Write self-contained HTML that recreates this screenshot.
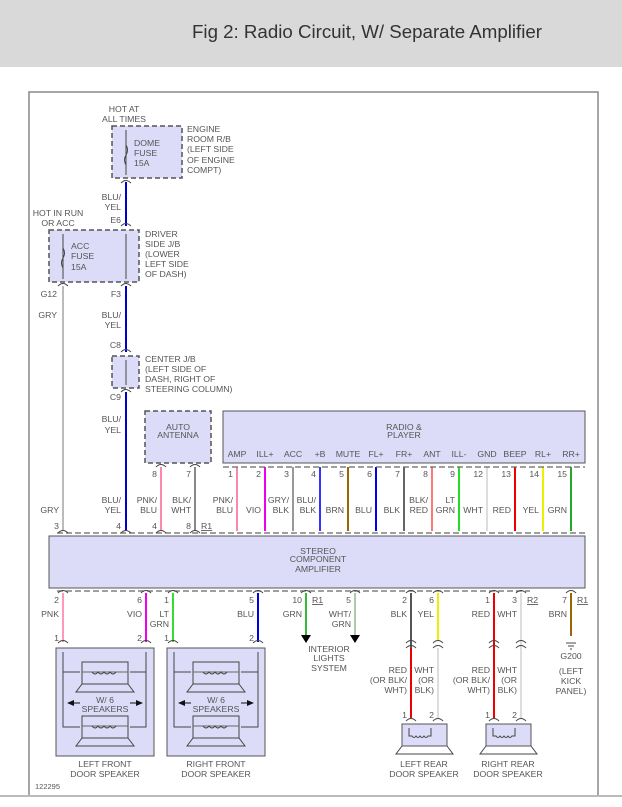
<!DOCTYPE html>
<html><head><meta charset="utf-8"><style>
body{margin:0;background:#fff;width:622px;height:807px;overflow:hidden}
svg{display:block}
text{font-family:"Liberation Sans",sans-serif;font-size:8.7px;fill:#555}
.c{text-anchor:middle}.r{text-anchor:end}
</style></head><body>
<svg width="622" height="807" viewBox="0 0 622 807">
<rect x="0" y="0" width="622" height="67" fill="#d9d9d9"/>
<text x="192" y="38" style="font-size:18.7px;fill:#333">Fig 2: Radio Circuit, W/ Separate Amplifier</text>
<path d="M29 795 V92 H598 V795" fill="none" stroke="#888" stroke-width="1.5"/>
<line x1="0" y1="796" x2="622" y2="796" stroke="#bbb" stroke-width="2"/>
<g fill="#dcdcf8" stroke="#555" stroke-width="1.5">
<rect x="112" y="126" width="70" height="52" stroke-dasharray="5,3"/>
<rect x="49" y="230" width="90" height="52" stroke-dasharray="5,3"/>
<rect x="112" y="356" width="27" height="32" stroke-dasharray="5,3"/>
<rect x="145" y="411" width="66" height="52" stroke-dasharray="5,3"/>
<rect x="223" y="411" width="362" height="52" stroke-width="1"/>
<rect x="49" y="536" width="536" height="52" stroke-width="1"/>
<rect x="56" y="648" width="98" height="108" stroke-width="1"/>
<rect x="167" y="648" width="98" height="108" stroke-width="1"/>
<rect x="402" y="724" width="45" height="22" stroke-width="1"/>
<rect x="486" y="724" width="45" height="22" stroke-width="1"/>
</g>
<g fill="none" stroke-width="2">
<line x1="126" y1="182" x2="126" y2="226" stroke="#00c"/>
<line x1="126" y1="286" x2="126" y2="352" stroke="#00c"/>
<line x1="126" y1="392" x2="126" y2="531" stroke="#00c"/>
<line x1="63" y1="286" x2="63" y2="531" stroke="#bbb"/>
<line x1="161" y1="467" x2="161" y2="531" stroke="#f8a"/>
<line x1="195" y1="467" x2="195" y2="531" stroke="#888"/>
<line x1="237" y1="467" x2="237" y2="531" stroke="#f8a"/>
<line x1="265" y1="467" x2="265" y2="531" stroke="#e0e"/>
<line x1="293" y1="467" x2="293" y2="531" stroke="#999"/>
<line x1="320" y1="467" x2="320" y2="531" stroke="#33f"/>
<line x1="348" y1="467" x2="348" y2="531" stroke="#960"/>
<line x1="376" y1="467" x2="376" y2="531" stroke="#00e"/>
<line x1="404" y1="467" x2="404" y2="531" stroke="#666"/>
<line x1="432" y1="467" x2="432" y2="531" stroke="#f77"/>
<line x1="459" y1="467" x2="459" y2="531" stroke="#2d2"/>
<line x1="487" y1="467" x2="487" y2="531" stroke="#ddd"/>
<line x1="515" y1="467" x2="515" y2="531" stroke="#e00"/>
<line x1="543" y1="467" x2="543" y2="531" stroke="#ee0"/>
<line x1="571" y1="467" x2="571" y2="531" stroke="#2a2"/>
<line x1="63" y1="593" x2="63" y2="642" stroke="#f9b"/>
<line x1="146" y1="593" x2="146" y2="642" stroke="#e0e"/>
<line x1="173" y1="593" x2="173" y2="642" stroke="#3d3"/>
<line x1="258" y1="593" x2="258" y2="642" stroke="#00d"/>
<line x1="306" y1="593" x2="306" y2="635" stroke="#3b3"/>
<line x1="355" y1="593" x2="355" y2="635" stroke="#aca"/>
<line x1="411" y1="593" x2="411" y2="718" stroke="#555"/>
<line x1="438" y1="593" x2="438" y2="640" stroke="#ee0"/>
<line x1="438" y1="648" x2="438" y2="718" stroke="#ddd"/>
<line x1="411" y1="648" x2="411" y2="718" stroke="#e00"/>
<line x1="494" y1="593" x2="494" y2="718" stroke="#e00"/>
<line x1="521" y1="593" x2="521" y2="718" stroke="#ddd"/>
<line x1="571" y1="593" x2="571" y2="636" stroke="#960"/>
</g>
<g stroke="#666" stroke-width="1.3" stroke-dasharray="6,3" fill="none">
<line x1="223" y1="467" x2="585" y2="467"/>
<line x1="57" y1="533" x2="585" y2="533"/>
<line x1="57" y1="591" x2="530" y2="591"/>
</g>
<g fill="#000"><path d="M301 635 h10 l-5 8z"/><path d="M350 635 h10 l-5 8z"/></g>
<g stroke="#444" stroke-width="1"><line x1="566" y1="643" x2="576" y2="643"/><line x1="568" y1="646" x2="574" y2="646"/><line x1="570" y1="649" x2="572" y2="649"/></g>
<g fill="none" stroke="#444" stroke-width="1">
<line x1="126" y1="130" x2="126" y2="175"/><path d="M126 165 q-3 -5 0 -10 q3 -5 0 -10"/>
<line x1="63" y1="234" x2="63" y2="279"/><path d="M63 268 q-3 -5 0 -10 q3 -5 0 -10"/>
<line x1="126" y1="234" x2="126" y2="279"/><line x1="126" y1="360" x2="126" y2="385"/>
<path d="M63 652 V727 H80 M63 672 H80 M146 652 V727 H130 M146 672 H130"/>
<path d="M174 652 V727 H191 M174 672 H191 M258 652 V727 H241 M258 672 H241"/>
<rect x="82" y="662" width="46" height="22"/><path d="M82 684 l-6 8 h58 l-6 -8"/>
<rect x="82" y="716" width="46" height="22"/><path d="M82 738 l-6 8 h58 l-6 -8"/>
<rect x="193" y="662" width="46" height="22"/><path d="M193 684 l-6 8 h58 l-6 -8"/>
<rect x="193" y="716" width="46" height="22"/><path d="M193 738 l-6 8 h58 l-6 -8"/>
<path d="M82 672 h46 M82 726 h46 M193 672 h46 M193 726 h46" stroke="#666"/>
<path d="M92 672 q3 4 6 0 q3 4 6 0 q3 4 6 0 q3 4 6 0 M92 726 q3 4 6 0 q3 4 6 0 q3 4 6 0 q3 4 6 0"/>
<path d="M203 672 q3 4 6 0 q3 4 6 0 q3 4 6 0 q3 4 6 0 M203 726 q3 4 6 0 q3 4 6 0 q3 4 6 0 q3 4 6 0"/>
<path d="M402 746 l-6 8 h57 l-6 -8 M486 746 l-6 8 h57 l-6 -8"/>
<path d="M409 728 v8 h3 q2 3 4 0 q2 3 4 0 q2 3 4 0 q2 3 4 0 h3 v-8 M493 728 v8 h3 q2 3 4 0 q2 3 4 0 q2 3 4 0 q2 3 4 0 h3 v-8"/>
<path d="M121 183 q5 -5 10 0 M121 226 q5 -5 10 0 M58 286 q5 -5 10 0 M121 286 q5 -5 10 0 M121 352 q5 -5 10 0 M121 392 q5 -5 10 0 M156 467 q5 -5 10 0 M190 467 q5 -5 10 0"/>
<path d="M58 533 q5 -5 10 0 M121 533 q5 -5 10 0 M156 533 q5 -5 10 0 M190 533 q5 -5 10 0 M58 593 q5 -5 10 0 M141 593 q5 -5 10 0 M168 593 q5 -5 10 0 M253 593 q5 -5 10 0 M301 593 q5 -5 10 0 M350 593 q5 -5 10 0 M406 593 q5 -5 10 0 M433 593 q5 -5 10 0 M489 593 q5 -5 10 0 M516 593 q5 -5 10 0 M566 593 q5 -5 10 0"/>
<path d="M58 643 q5 -5 10 0 M141 643 q5 -5 10 0 M168 643 q5 -5 10 0 M253 643 q5 -5 10 0 M406 643 q5 -5 10 0 M433 643 q5 -5 10 0 M489 643 q5 -5 10 0 M516 643 q5 -5 10 0 M406 648 q5 -5 10 0 M433 648 q5 -5 10 0 M489 648 q5 -5 10 0 M516 648 q5 -5 10 0 M406 721 q5 -5 10 0 M433 721 q5 -5 10 0 M489 721 q5 -5 10 0 M516 721 q5 -5 10 0"/>
</g>
<g>
<text x="124" y="112" class="c">HOT AT</text><text x="124" y="122" class="c">ALL TIMES</text>
<text x="134" y="146">DOME</text><text x="134" y="156">FUSE</text><text x="134" y="166">15A</text>
<text x="187" y="132">ENGINE</text><text x="187" y="142">ROOM R/B</text><text x="187" y="152">(LEFT SIDE</text><text x="187" y="163">OF ENGINE</text><text x="187" y="173">COMPT)</text>
<text x="121" y="200" class="r">BLU/</text><text x="121" y="210" class="r">YEL</text><text x="121" y="223" class="r">E6</text>
<text x="58" y="216" class="c">HOT IN RUN</text><text x="58" y="226" class="c">OR ACC</text>
<text x="71" y="249">ACC</text><text x="71" y="259">FUSE</text><text x="71" y="270">15A</text>
<text x="145" y="237">DRIVER</text><text x="145" y="247">SIDE J/B</text><text x="145" y="257">(LOWER</text><text x="145" y="267">LEFT SIDE</text><text x="145" y="277">OF DASH)</text>
<text x="57" y="297" class="r">G12</text><text x="121" y="297" class="r">F3</text>
<text x="57" y="318" class="r">GRY</text><text x="121" y="318" class="r">BLU/</text><text x="121" y="328" class="r">YEL</text>
<text x="121" y="348" class="r">C8</text><text x="121" y="400" class="r">C9</text>
<text x="145" y="362">CENTER J/B</text><text x="145" y="372">(LEFT SIDE OF</text><text x="145" y="382">DASH, RIGHT OF</text><text x="145" y="392">STEERING COLUMN)</text>
<text x="121" y="422" class="r">BLU/</text><text x="121" y="433" class="r">YEL</text>
<text x="178" y="430" class="c">AUTO</text><text x="178" y="438" class="c">ANTENNA</text>
<text x="404" y="430" class="c">RADIO &amp;</text><text x="404" y="438" class="c">PLAYER</text>
<text x="237" y="457" class="c">AMP</text><text x="265" y="457" class="c">ILL+</text><text x="293" y="457" class="c">ACC</text><text x="320" y="457" class="c">+B</text><text x="348" y="457" class="c">MUTE</text><text x="376" y="457" class="c">FL+</text><text x="404" y="457" class="c">FR+</text><text x="432" y="457" class="c">ANT</text><text x="459" y="457" class="c">ILL-</text><text x="487" y="457" class="c">GND</text><text x="515" y="457" class="c">BEEP</text><text x="543" y="457" class="c">RL+</text><text x="571" y="457" class="c">RR+</text>
<text x="157" y="477" class="r">8</text><text x="191" y="477" class="r">7</text><text x="233" y="477" class="r">1</text><text x="261" y="477" class="r">2</text><text x="289" y="477" class="r">3</text><text x="316" y="477" class="r">4</text><text x="344" y="477" class="r">5</text><text x="372" y="477" class="r">6</text><text x="400" y="477" class="r">7</text><text x="428" y="477" class="r">8</text><text x="455" y="477" class="r">9</text><text x="483" y="477" class="r">12</text><text x="511" y="477" class="r">13</text><text x="539" y="477" class="r">14</text><text x="567" y="477" class="r">15</text>
<text x="121" y="503" class="r">BLU/</text><text x="121" y="513" class="r">YEL</text>
<text x="157" y="503" class="r">PNK/</text><text x="157" y="513" class="r">BLU</text>
<text x="191" y="503" class="r">BLK/</text><text x="191" y="513" class="r">WHT</text>
<text x="233" y="503" class="r">PNK/</text><text x="233" y="513" class="r">BLU</text>
<text x="261" y="513" class="r">VIO</text>
<text x="289" y="503" class="r">GRY/</text><text x="289" y="513" class="r">BLK</text>
<text x="316" y="503" class="r">BLU/</text><text x="316" y="513" class="r">BLK</text>
<text x="344" y="513" class="r">BRN</text><text x="372" y="513" class="r">BLU</text><text x="400" y="513" class="r">BLK</text>
<text x="428" y="503" class="r">BLK/</text><text x="428" y="513" class="r">RED</text>
<text x="455" y="503" class="r">LT</text><text x="455" y="513" class="r">GRN</text>
<text x="483" y="513" class="r">WHT</text><text x="511" y="513" class="r">RED</text><text x="539" y="513" class="r">YEL</text><text x="567" y="513" class="r">GRN</text>
<text x="59" y="513" class="r">GRY</text>
<text x="59" y="529" class="r">3</text><text x="121" y="529" class="r">4</text><text x="157" y="529" class="r">4</text><text x="191" y="529" class="r">8</text>
<text x="201" y="529" style="text-decoration:underline">R1</text>
<text x="318" y="554" class="c">STEREO</text><text x="318" y="562" class="c">COMPONENT</text><text x="318" y="572" class="c">AMPLIFIER</text>
<text x="59" y="603" class="r">2</text><text x="142" y="603" class="r">6</text><text x="169" y="603" class="r">1</text><text x="254" y="603" class="r">5</text><text x="302" y="603" class="r">10</text><text x="351" y="603" class="r">5</text><text x="407" y="603" class="r">2</text><text x="434" y="603" class="r">6</text><text x="490" y="603" class="r">1</text><text x="517" y="603" class="r">3</text><text x="567" y="603" class="r">7</text>
<text x="312" y="603" style="text-decoration:underline">R1</text><text x="527" y="603" style="text-decoration:underline">R2</text><text x="577" y="603" style="text-decoration:underline">R1</text>
<text x="59" y="617" class="r">PNK</text><text x="142" y="617" class="r">VIO</text><text x="169" y="617" class="r">LT</text><text x="169" y="627" class="r">GRN</text><text x="254" y="617" class="r">BLU</text><text x="302" y="617" class="r">GRN</text>
<text x="351" y="617" class="r">WHT/</text><text x="351" y="627" class="r">GRN</text>
<text x="407" y="617" class="r">BLK</text><text x="434" y="617" class="r">YEL</text><text x="490" y="617" class="r">RED</text><text x="517" y="617" class="r">WHT</text><text x="567" y="617" class="r">BRN</text>
<text x="59" y="641" class="r">1</text><text x="142" y="641" class="r">2</text><text x="169" y="641" class="r">1</text><text x="254" y="641" class="r">2</text>
<text x="329" y="652" class="c">INTERIOR</text><text x="329" y="661" class="c">LIGHTS</text><text x="329" y="671" class="c">SYSTEM</text>
<text x="571" y="659" class="c">G200</text><text x="571" y="674" class="c">(LEFT</text><text x="571" y="684" class="c">KICK</text><text x="571" y="694" class="c">PANEL)</text>
<text x="407" y="673" class="r">RED</text><text x="407" y="683" class="r">(OR BLK/</text><text x="407" y="693" class="r">WHT)</text>
<text x="434" y="673" class="r">WHT</text><text x="434" y="683" class="r">(OR</text><text x="434" y="693" class="r">BLK)</text>
<text x="490" y="673" class="r">RED</text><text x="490" y="683" class="r">(OR BLK/</text><text x="490" y="693" class="r">WHT)</text>
<text x="517" y="673" class="r">WHT</text><text x="517" y="683" class="r">(OR</text><text x="517" y="693" class="r">BLK)</text>
<text x="407" y="718" class="r">1</text><text x="434" y="718" class="r">2</text><text x="490" y="718" class="r">1</text><text x="517" y="718" class="r">2</text>
<text x="105" y="703" class="c">W/ 6</text><text x="105" y="712" class="c">SPEAKERS</text>
<text x="216" y="703" class="c">W/ 6</text><text x="216" y="712" class="c">SPEAKERS</text>
<text x="105" y="767" class="c">LEFT FRONT</text><text x="105" y="777" class="c">DOOR SPEAKER</text>
<text x="216" y="767" class="c">RIGHT FRONT</text><text x="216" y="777" class="c">DOOR SPEAKER</text>
<text x="424" y="767" class="c">LEFT REAR</text><text x="424" y="777" class="c">DOOR SPEAKER</text>
<text x="508" y="767" class="c">RIGHT REAR</text><text x="508" y="777" class="c">DOOR SPEAKER</text>
<text x="35" y="789" style="font-size:7.5px">122295</text>
</g>
<g fill="#111"><path d="M67 703 l7 -3 v6z M143 703 l-7 -3 v6z M178 703 l7 -3 v6z M254 703 l-7 -3 v6z"/></g>
<g stroke="#111"><line x1="74" y1="703" x2="80" y2="703"/><line x1="130" y1="703" x2="136" y2="703"/><line x1="185" y1="703" x2="191" y2="703"/><line x1="241" y1="703" x2="247" y2="703"/></g>
</svg>
</body></html>
